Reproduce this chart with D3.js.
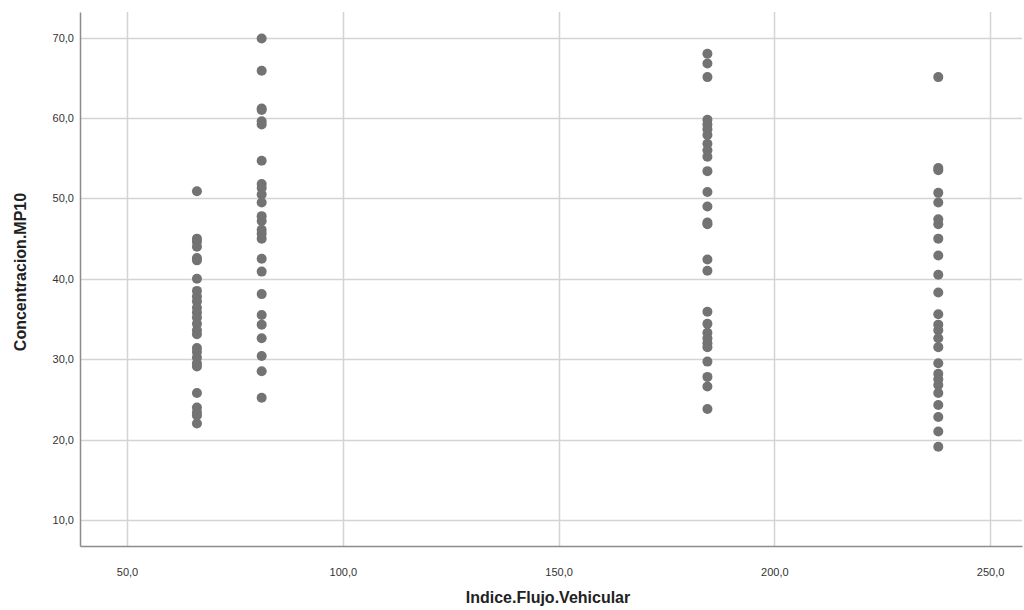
<!DOCTYPE html>
<html>
<head>
<meta charset="utf-8">
<script src="https://cdn.jsdelivr.net/npm/d3@7"></script>
<style>
  body { margin: 0; background: #fff; }
  svg { display: block; font-family: 'Liberation Sans', Arial, sans-serif; }
</style>
</head>
<body>
<svg></svg>
<script>
'use strict'

// x position of each group of points (Indice.Flujo.Vehicular)
const flujo = [66.2, 81.2, 184.5, 238.0]

// Concentracion.MP10 values, one list per group
const mp10A = [50.9, 45.0, 44.6, 44.0, 42.6, 42.3, 40.0, 38.5, 37.8, 37.2, 36.4, 35.8, 35.2,
  34.4, 33.6, 33.1, 31.4, 30.9, 30.2, 29.5, 29.1, 25.8, 24.0, 23.4, 23.0, 22.0]
const mp10B = [69.9, 65.9, 61.2, 61.0, 59.6, 59.2, 54.7, 51.8, 51.3, 50.5, 49.5, 47.8, 47.2,
  46.1, 45.6, 45.0, 42.5, 40.9, 38.1, 35.5, 34.3, 32.6, 30.4, 28.5, 25.2]
const mp10C = [68.0, 66.8, 65.1, 59.8, 59.2, 58.6, 57.9, 56.8, 56.0, 55.2, 53.4, 50.8, 49.0,
  47.0, 46.8, 42.4, 41.0, 35.9, 34.4, 33.3, 32.6, 32.0, 31.5, 29.7, 27.8, 26.6, 23.8]
const mp10D = [65.1, 53.8, 53.5, 50.7, 49.5, 47.4, 46.8, 45.0, 42.9, 40.5, 38.3, 35.6, 34.3,
  33.6, 32.6, 31.5, 29.5, 28.2, 27.5, 26.8, 25.8, 24.3, 22.8, 21.0, 19.1]

const xTicks = [50, 100, 150, 200, 250]
const yTicks = [10, 20, 30, 40, 50, 60, 70]

const width = 1024,
  height = 610
const margin = { top: 12, right: 2, bottom: 64, left: 80 }

const svg = d3.select('svg')
  .attr('width', width)
  .attr('height', height)

const xScale = d3.scaleLinear()
  .domain([39.1, 257.4])
  .range([margin.left, width - margin.right])

const yScale = d3.scaleLinear()
  .domain([6.76, 73.2])
  .range([height - margin.bottom, margin.top])

const fmt = d => d3.format('.1f')(d).replace('.', ',')

// grid
svg.append('g')
  .selectAll('line')
  .data(yTicks)
  .join('line')
  .attr('x1', margin.left)
  .attr('x2', width - margin.right)
  .attr('y1', d => Math.round(yScale(d)) + 0.5)
  .attr('y2', d => Math.round(yScale(d)) + 0.5)
  .attr('stroke', '#d4d4d4')
  .attr('stroke-width', 1.5)

svg.append('g')
  .selectAll('line')
  .data(xTicks)
  .join('line')
  .attr('x1', d => Math.round(xScale(d)) + 0.5)
  .attr('x2', d => Math.round(xScale(d)) + 0.5)
  .attr('y1', margin.top)
  .attr('y2', height - margin.bottom)
  .attr('stroke', '#d4d4d4')
  .attr('stroke-width', 1.5)

// axes
const xAxis = svg.append('g')
  .attr('transform', 'translate(0,' + (height - margin.bottom) + ')')
  .call(d3.axisBottom(xScale).tickValues(xTicks).tickFormat(fmt).tickSize(0).tickPadding(22))
xAxis.select('.domain').attr('stroke', '#8c8c8c').attr('stroke-width', 1.5)

const yAxis = svg.append('g')
  .attr('transform', 'translate(' + margin.left + ',0)')
  .call(d3.axisLeft(yScale).tickValues(yTicks).tickFormat(fmt).tickSize(0).tickPadding(6))
yAxis.select('.domain').attr('stroke', '#8c8c8c').attr('stroke-width', 1.5)

svg.selectAll('.tick text')
  .attr('fill', '#333')
  .style('font-size', '11px')
  .style('font-family', "'Liberation Sans', Arial, sans-serif")

// points
const groups = [mp10A, mp10B, mp10C, mp10D]
const points = []
groups.forEach((vals, i) => {
  vals.forEach(v => points.push({ x: flujo[i], y: v }))
})

svg.append('g')
  .selectAll('circle')
  .data(points)
  .join('circle')
  .attr('cx', d => xScale(d.x))
  .attr('cy', d => yScale(d.y))
  .attr('r', 5)
  .attr('fill', '#737373')

// titles
svg.append('text')
  .attr('x', 548)
  .attr('y', 603)
  .attr('text-anchor', 'middle')
  .attr('fill', '#222')
  .style('font-size', '16px')
  .style('font-weight', 'bold')
  .text('Indice.Flujo.Vehicular')

svg.append('text')
  .attr('transform', 'translate(26,272) rotate(-90)')
  .attr('text-anchor', 'middle')
  .attr('fill', '#222')
  .style('font-size', '16px')
  .style('font-weight', 'bold')
  .text('Concentracion.MP10')
</script>
</body>
</html>
